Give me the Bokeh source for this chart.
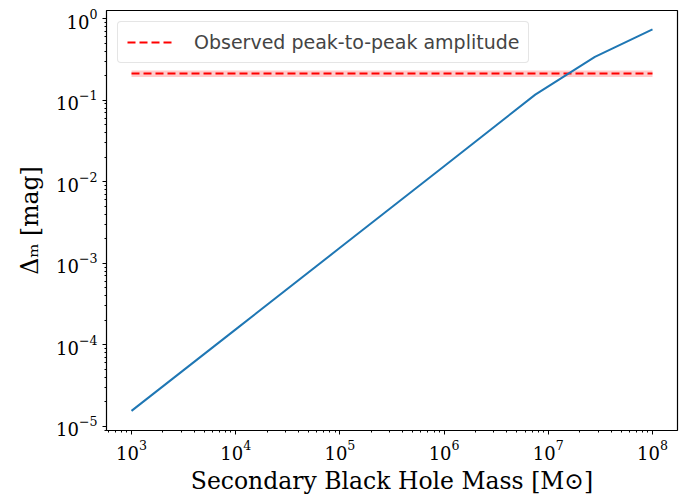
from bokeh.plotting import figure
from bokeh.models import Range1d, LogTicker, Legend, LegendItem
from bokeh.embed import file_html
from bokeh.resources import INLINE

# Data
mass = [1e3, 1e4, 1e5, 1e6, 7.5e6, 2.8e7, 1e8]
delta_m = [1.55e-5, 1.55e-4, 1.55e-3, 1.55e-2, 0.117, 0.34, 0.74]
obs_x = [1e3, 1e8]
obs_amp = 0.212
obs_lo = 0.193
obs_hi = 0.232

p = figure(width=692, height=497, x_axis_type="log", y_axis_type="log",
           x_range=Range1d(10**2.76, 10**8.24), y_range=Range1d(10**-5.05, 10**0.1),
           output_backend="svg", toolbar_location=None,
           min_border_left=106, min_border_right=15, min_border_top=10, min_border_bottom=66)

p.background_fill_color = "white"
p.border_fill_color = "white"
p.outline_line_color = "black"
p.outline_line_width = 1.2
p.xgrid.visible = False
p.ygrid.visible = False

band = p.varea(x=obs_x, y1=[obs_lo] * 2, y2=[obs_hi] * 2, fill_color="red", fill_alpha=0.2)
obs = p.line(obs_x, [obs_amp] * 2, line_color="red", line_width=2, line_dash="8 4")
curve = p.line(mass, delta_m, line_color="#1f77b4", line_width=2)

for ax in (p.xaxis[0], p.yaxis[0]):
    ax.major_label_text_font = "DejaVu Serif"
    ax.major_label_text_font_size = "18px"
    ax.major_label_text_color = "black"
    ax.axis_label_text_font = "DejaVu Serif"
    ax.axis_label_text_font_size = "23.5px"
    ax.axis_label_text_font_style = "normal"
    ax.axis_label_text_color = "black"
    ax.axis_line_color = None
    ax.major_tick_in = 0
    ax.major_tick_out = 4
    ax.minor_tick_in = 0
    ax.minor_tick_out = 2
    ax.major_tick_line_color = "black"
    ax.minor_tick_line_color = "black"

p.xaxis.ticker = LogTicker(num_minor_ticks=10)
p.yaxis.ticker = LogTicker(num_minor_ticks=10)
p.xaxis.axis_label = "Secondary Black Hole Mass [M⊙]"
p.yaxis.axis_label = "Δₘ [mag]"
p.xaxis.major_label_standoff = 5
p.yaxis.major_label_standoff = 5
p.xaxis.axis_label_standoff = 4
p.yaxis.axis_label_standoff = 9

legend = Legend(items=[LegendItem(label="Observed peak-to-peak amplitude", renderers=[obs])],
                location="top_left", margin=11)
legend.label_text_font = "DejaVu Sans"
legend.label_text_font_size = "19px"
legend.label_standoff = 22
legend.glyph_width = 45
legend.glyph_height = 22
legend.padding = 9
legend.border_line_color = "#cccccc"
legend.border_line_width = 1
legend.background_fill_alpha = 0.85
if "border_radius" in legend.properties():
    legend.border_radius = 4
p.add_layout(legend, "center")

open("out.html", "w").write(file_html(p, INLINE))
